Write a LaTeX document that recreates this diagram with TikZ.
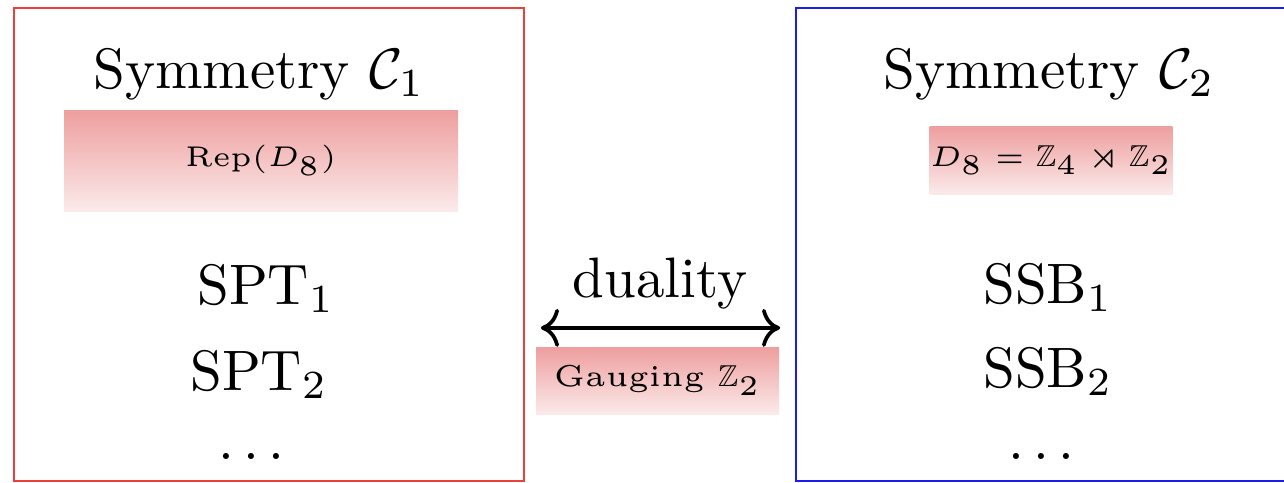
\documentclass[tikz,border=0pt]{standalone}
\usepackage{amsmath,amssymb}
\usepackage{tikz}
\usetikzlibrary{
  arrows.meta,
  positioning
}
\definecolor{frameleft}{HTML}{E8423A}
\definecolor{frameright}{HTML}{1C1CF2}
\definecolor{shadetop}{HTML}{EE9E9E}
\definecolor{shadebot}{HTML}{FBEAEA}
\newdimen\pxu
\pxu=0.17544pt

\begin{document}
\begin{tikzpicture}[
  x=0.17544pt, y=-0.17544pt,
  panel/.style={line width=0.42pt},
  bigtxt/.style={anchor=base, inner sep=0pt, font=\normalsize},
  shadebox/.style={top color=shadetop, bottom color=shadebot,
               inner sep=0pt, font=\fontsize{5.3}{6.4}\selectfont},
  dual/.style={{To[scale=1.05]}-{To[scale=1.05]}, line width=0.65pt},
]
  \useasboundingbox (0,0) rectangle (1284,482);
  \draw[panel, draw=frameleft] (14,8) rectangle (524,481);
  \draw[panel, draw=frameright] (796,8) rectangle (1306,481);

  % left side
  \node[bigtxt] (titleA) at (259,88) {Symmetry $\mathcal{C}_1$};
  \node[shadebox, minimum width=394*\pxu, minimum height=101*\pxu]
    (repbox) at (261,160.5) {$\mathrm{Rep}(D_8)$};
  \node[bigtxt] (sptA) at (266,304) {SPT$_1$};
  \node[bigtxt] (sptB) at (259,390) {SPT$_2$};
  \node[bigtxt] (sptdots) at (256,459) {$\dots$};

  % middle
  \node[bigtxt] (duality) at (660,297) {duality};
  \node[shadebox, minimum width=243*\pxu, minimum height=67*\pxu]
    (gauge) at (657.5,380.5) {Gauging $\mathbb{Z}_2$};
  \draw[dual] ([shift={(6,-18)}]gauge.north west)
    -- ([shift={(0,-18)}]gauge.north east);

  % right side
  \node[bigtxt] (titleB) at (1049,88) {Symmetry $\mathcal{C}_2$};
  \node[shadebox, minimum width=238*\pxu, minimum height=68*\pxu]
    (dbox) at (1051,160) {$D_8=\mathbb{Z}_4\rtimes\mathbb{Z}_2$};
  \node[bigtxt] (ssbA) at (1048,303) {SSB$_1$};
  \node[bigtxt] (ssbB) at (1048,387) {SSB$_2$};
  \node[bigtxt] (ssbdots) at (1046,459) {$\dots$};
\end{tikzpicture}
\end{document}
